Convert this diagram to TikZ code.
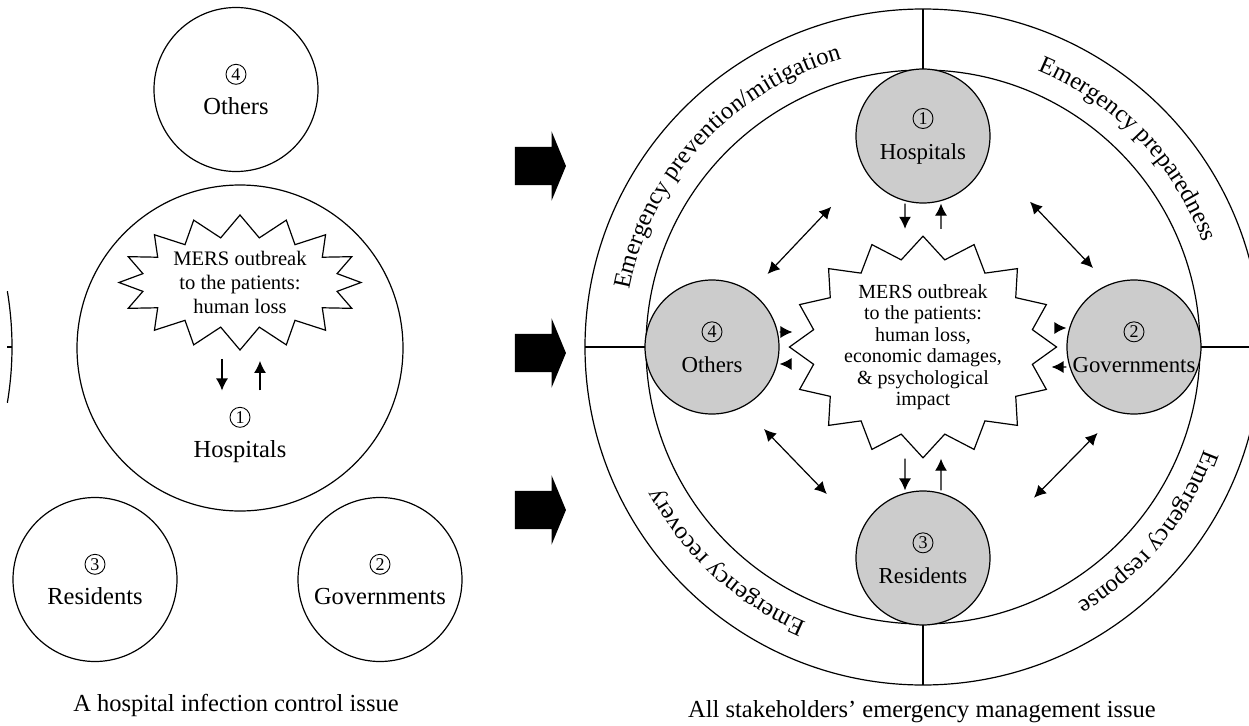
\documentclass[tikz,border=0pt]{standalone}
\usepackage{fontspec}
\setmainfont{Liberation Serif}
\usetikzlibrary{shapes.geometric, shapes.symbols, shapes.arrows, arrows.meta, decorations.text}
\newcommand{\ringfont}{\fontsize{12.25}{14}\selectfont}
\newcommand{\cnum}[1]{\tikz[baseline=-3.8pt]{\draw[line width=0.45pt, fill=none] (0,0) circle[radius=5pt]; \path (0,0) node[rectangle, draw=none, fill=none, inner sep=0pt, minimum size=0pt, font=\fontsize{9}{9}\selectfont] {#1};}}
\tikzstyle{party} = [circle, draw=black, line width=0.6pt, minimum size=82pt, inner sep=0pt, align=center, font=\fontsize{12.25}{16.5}\selectfont]
\tikzstyle{actor} = [circle, draw=black, fill=black!20, line width=0.6pt, minimum size=67pt, inner sep=0pt, align=center, font=\fontsize{11.4}{16.5}\selectfont]
\tikzstyle{outbreak} = [starburst, starburst points=16, random starburst=0, starburst point height=11pt, draw=black, fill=white, line width=0.6pt, inner sep=0pt, align=center]
\tikzstyle{link} = [line width=0.6pt, -{Latex[length=6pt,width=6pt]}]
\tikzstyle{mutual} = [line width=0.6pt, {Latex[length=6pt,width=6pt]}-{Latex[length=6pt,width=6pt]}]
\tikzstyle{push} = [single arrow, fill=black, minimum height=25.5pt, inner xsep=0pt, inner ysep=9.25pt, single arrow head extend=7.75pt, single arrow tip angle=135]
\tikzstyle{caption} = [font=\fontsize{12.25}{14}\selectfont]

\begin{document}
\begin{tikzpicture}[x=0.5pt, y=0.5pt, line width=0.6pt]
\useasboundingbox (0,0) rectangle (1249,725);

\draw (12,378) arc[start angle=0, end angle=9.5, radius=338];
\draw (12,378) arc[start angle=0, end angle=-9.5, radius=338];
\draw (7,378) -- (12,378);

\node (field_l) [circle, draw, minimum size=163pt, inner sep=0pt] at (240,377) {};
\node (others_l) [party] at (236,635.5) {\cnum{4}\\Others};
\node (res_l) [party] at (95,145.5) {\cnum{3}\\Residents};
\node (gov_l) [party] at (380,145.5) {\cnum{2}\\Governments};
\node (star_l) [outbreak, minimum width=121pt, minimum height=67.5pt, font=\fontsize{10.3}{12}\selectfont] at (240,442.5) {MERS outbreak\\to the patients:\\human loss};
\node (hosp_l) [align=center, inner sep=0pt, font=\fontsize{12.25}{16.5}\selectfont] at (240,290) {\cnum{1}\\Hospitals};

\draw [link, shorten <=4pt, shorten >=8pt] ([xshift=-9pt]star_l.south) -- ([xshift=-9pt]star_l.south |- hosp_l.north);
\draw [link, shorten <=8pt, shorten >=5pt] ([xshift=10pt]star_l.south |- hosp_l.north) -- ([xshift=10pt]star_l.south);

\node (push1) [push] at (536.5,559) {};
\node (push2) [push] at (536.5,372) {};
\node (push3) [push] at (536.5,215) {};

\coordinate (C) at (923,378);
\draw (C) circle[radius=338];
\draw (C) circle[radius=277];
\foreach \a in {0,90,180,270}
  \draw ([shift={(\a:277)}]C) -- ([shift={(\a:338)}]C);

\path [decorate, decoration={text along path, text align=left, text={|\ringfont|Emergency prevention/mitigation}}] ([shift={(169:299)}]C) arc[start angle=169, end angle=95, radius=299];
\path [decorate, decoration={text along path, text align=left, text={|\ringfont|Emergency preparedness}}] ([shift={(67.5:299)}]C) arc[start angle=67.5, end angle=5, radius=299];
\path [decorate, decoration={text along path, text align=left, text={|\ringfont|Emergency response}}] ([shift={(-20:299)}]C) arc[start angle=-20, end angle=-85, radius=299];
\path [decorate, decoration={text along path, text align=left, text={|\ringfont|Emergency recovery}}] ([shift={(247:299)}]C) arc[start angle=247, end angle=185, radius=299];

\node (hosp) [actor] at (923,589) {\cnum{1}\\Hospitals};
\node (gov) [actor] at (1134,378) {\cnum{2}\\Governments};
\node (res) [actor] at (923,167) {\cnum{3}\\Residents};
\node (others) [actor] at (712,378) {\cnum{4}\\Others};
\node (star) [outbreak, minimum width=113pt, minimum height=102.5pt, font=\fontsize{10}{10.75}\selectfont] at (C) {MERS outbreak\\to the patients:\\human loss,\\economic damages,\\\& psychological\\impact};

\draw [link, shorten >=3.25pt] ([xshift=-9pt]hosp.south) -- ([xshift=-9pt]star.north);
\draw [link, shorten <=3.25pt] ([xshift=9pt]star.north) -- ([xshift=9pt]hosp.south);
\draw [link] ([xshift=-9pt]star.south) -- ([xshift=-9pt]res.north);
\draw [link] ([xshift=9pt]res.north) -- ([xshift=9pt]star.south);
\draw [link, shorten >=-2pt] ([yshift=7.5pt]others.east) -- ([yshift=7.5pt]star.west);
\draw [link, shorten <=-2pt] ([yshift=-8.5pt]star.west) -- ([yshift=-8.5pt]others.east);
\draw [link, shorten <=-3pt] ([yshift=9.5pt]star.east) -- ([yshift=9.5pt]gov.west);
\draw [link, shorten >=-3pt] ([yshift=-10pt]gov.west) -- ([yshift=-10pt]star.east);

\coordinate (oh1) at (767.6,451);
\coordinate (oh2) at (831.3,518.3);
\coordinate (hg1) at (1030,523.3);
\coordinate (hg2) at (1093,457);
\coordinate (or1) at (764,296);
\coordinate (or2) at (826.8,231);
\coordinate (gr1) at (1097.6,292);
\coordinate (gr2) at (1034,227.3);
\draw [mutual] (oh1) -- (oh2);
\draw [mutual] (hg1) -- (hg2);
\draw [mutual] (or1) -- (or2);
\draw [mutual] (gr1) -- (gr2);

\node (cap_l) [caption] at (236,20) {A hospital infection control issue};
\node (cap_r) [caption] at (922,13) {All stakeholders’ emergency management issue};
\end{tikzpicture}
\end{document}
